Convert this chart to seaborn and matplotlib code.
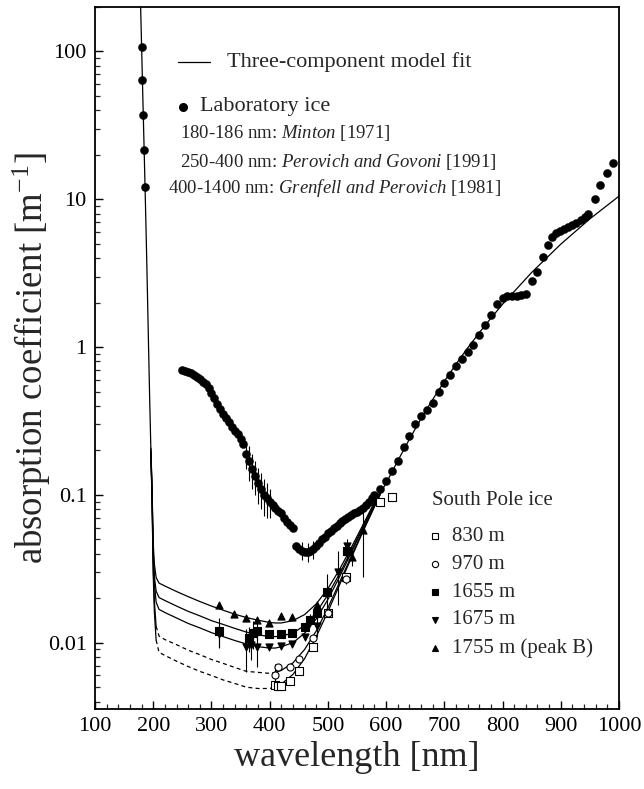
import matplotlib
matplotlib.use("Agg")
import matplotlib.pyplot as plt
import seaborn as sns
import numpy as np
import pandas as pd
from matplotlib.ticker import FixedLocator, FixedFormatter, MultipleLocator, NullFormatter

# ---------------- data ----------------
# Laboratory ice: 180-186 nm (Minton)
lab_uv_wl = [180, 181.5, 183, 184.5, 186]
lab_uv_abs = [108, 64, 37, 21.5, 12.2]
# 250-400 nm (Perovich and Govoni)
lab1_wl = [250, 255, 260, 265, 270, 275, 280, 285, 290, 295, 300, 305, 310, 315, 320,
           325, 330, 335, 340, 345, 350, 355, 360, 365, 370, 375, 380, 385, 390, 395, 400]
lab1_abs = [0.70, 0.69, 0.68, 0.67, 0.65, 0.63, 0.61, 0.58, 0.56, 0.53, 0.49, 0.45, 0.41, 0.38, 0.35,
            0.33, 0.31, 0.29, 0.27, 0.26, 0.24, 0.22, 0.19, 0.17, 0.15, 0.135, 0.12, 0.11, 0.10, 0.095, 0.09]
# 400-1400 nm (Grenfell and Perovich)
lab2_wl = [405, 410, 415, 420, 425, 430, 435, 440, 445, 450, 455, 460, 465, 470, 475, 480, 485, 490,
           495, 500, 505, 510, 515, 520, 525, 530, 535, 540, 545, 550, 555, 560, 565, 570, 575, 580,
           590, 600, 610, 620, 630, 640, 650, 660, 670, 680, 690, 700, 710, 720, 730, 740, 750, 760,
           770, 780, 790, 800, 808, 816, 824, 832, 840, 850, 860, 870, 878, 885, 892, 899, 906, 913,
           920, 927, 934, 941, 947, 959, 967, 979, 990]
lab2_abs = [0.085, 0.082, 0.078, 0.075, 0.070, 0.066, 0.063, 0.060, 0.045, 0.043, 0.042, 0.041, 0.041,
            0.042, 0.043, 0.045, 0.047, 0.050, 0.052, 0.055, 0.057, 0.060, 0.062, 0.065, 0.067, 0.069,
            0.071, 0.073, 0.075, 0.077, 0.079, 0.082, 0.086, 0.090, 0.095, 0.100, 0.110, 0.125, 0.145,
            0.170, 0.210, 0.250, 0.300, 0.340, 0.375, 0.420, 0.500, 0.570, 0.645, 0.740, 0.830, 0.920,
            1.04, 1.20, 1.40, 1.65, 1.95, 2.15, 2.20, 2.22, 2.22, 2.25, 2.30, 2.80, 3.20, 4.10, 4.90,
            5.60, 5.90, 6.10, 6.30, 6.50, 6.70, 6.95, 7.20, 7.60, 8.00, 10.1, 12.5, 15.0, 17.5]
# error bars on some laboratory points
lab_err_wl = [360, 365, 370, 375, 380, 385, 390, 395, 400, 455, 465, 475]
lab_err = [0.04, 0.045, 0.04, 0.035, 0.033, 0.03, 0.028, 0.025, 0.02, 0.006, 0.006, 0.006]

# South Pole ice measurements
sp830_wl = [410, 415, 420, 435, 450, 475, 500, 531, 590, 610]
sp830 = [0.0052, 0.0051, 0.0051, 0.0055, 0.0064, 0.0093, 0.016, 0.028, 0.090, 0.097]
sp830_err = [0, 0, 0, 0, 0, 0, 0, 0, 0, 0]
sp970_wl = [410, 415, 435, 450, 475, 500, 531]
sp970 = [0.0060, 0.0068, 0.0069, 0.0077, 0.0107, 0.016, 0.027]
sp970_err = [0.0012, 0, 0, 0, 0, 0.001, 0.002]
sp1655_wl = [313, 365, 372, 379, 399, 419, 439, 460, 470, 481, 498, 532]
sp1655 = [0.012, 0.0107, 0.0116, 0.012, 0.0115, 0.0114, 0.0116, 0.0128, 0.0142, 0.016, 0.022, 0.042]
sp1655_err = [0.0028, 0.002, 0.0025, 0.0015, 0, 0, 0, 0, 0.0015, 0.002, 0.007, 0.006]
sp1675_wl = [313, 360, 368, 379, 399, 419, 439, 460, 481, 518, 532]
sp1675 = [0.0114, 0.0093, 0.0096, 0.0094, 0.0094, 0.0095, 0.0098, 0.011, 0.013, 0.030, 0.045]
sp1675_err = [0.002, 0.003, 0.002, 0.0025, 0, 0, 0, 0, 0.002, 0.012, 0.005]
sp1755_wl = [313, 339, 359, 379, 399, 419, 439, 481, 541, 560]
sp1755 = [0.018, 0.0156, 0.0148, 0.0142, 0.0135, 0.0152, 0.015, 0.018, 0.038, 0.058]
sp1755_err = [0, 0, 0, 0, 0, 0, 0, 0, 0.005, 0.03]

# Three-component model fit curves
uv_wl = [177, 178, 180, 182, 184, 186, 188, 190, 192, 194, 196]
uv_abs = [330, 230, 110, 52, 25, 12, 5.5, 2.4, 1.0, 0.43, 0.2]
fit_wl = [196, 198, 200, 202, 205, 210, 220, 240, 260, 280, 300, 320, 340, 360, 380, 400, 410,
          420, 440, 460, 480, 500, 520, 540, 560, 580, 590]
fit_1755 = [0.207, 0.109, 0.047, 0.034, 0.0276, 0.0253, 0.0242, 0.0222, 0.0205, 0.0190, 0.0177,
            0.0166, 0.0156, 0.0148, 0.0142, 0.0137, 0.0136, 0.0136, 0.0141, 0.0155, 0.0183, 0.0232,
            0.0313, 0.0439, 0.0625, 0.0892, 0.1066]
fit_1655 = [0.200, 0.104, 0.041, 0.028, 0.0223, 0.0202, 0.0193, 0.0177, 0.0163, 0.0152, 0.0141,
            0.0133, 0.0125, 0.0118, 0.0113, 0.0110, 0.0110, 0.0111, 0.0116, 0.0131, 0.0160, 0.0211,
            0.0293, 0.0419, 0.0606, 0.0873, 0.1048]
fit_1675 = [0.198, 0.100, 0.038, 0.025, 0.0188, 0.0168, 0.0160, 0.0147, 0.0135, 0.0126, 0.0117,
            0.0110, 0.01035, 0.0098, 0.0094, 0.0092, 0.0092, 0.0094, 0.0100, 0.0116, 0.0145, 0.0196,
            0.0279, 0.0405, 0.0593, 0.0861, 0.1036]
fit_970 = [0.192, 0.094, 0.032, 0.019, 0.0129, 0.0111, 0.0105, 0.0097, 0.0089, 0.0083, 0.0077,
           0.00725, 0.0068, 0.0064, 0.0063, 0.0062, 0.0063, 0.0065, 0.0073, 0.0090, 0.0120, 0.0172,
           0.0256, 0.0383, 0.0571, 0.0840, 0.1015]
fit_830 = [0.189, 0.091, 0.029, 0.016, 0.0104, 0.0086, 0.0082, 0.0075, 0.0069, 0.0064, 0.0060,
           0.0056, 0.0053, 0.0050, 0.0049, 0.0049, 0.0050, 0.00525, 0.0061, 0.0078, 0.0110, 0.0162,
           0.0246, 0.0373, 0.0562, 0.0831, 0.1007]
ice_wl = [590, 600, 620, 640, 660, 680, 700, 720, 740, 760, 780, 800, 850, 900, 950, 1000]
ice_abs = [0.103, 0.120, 0.170, 0.238, 0.328, 0.442, 0.587, 0.767, 0.986, 1.25, 1.57, 1.95,
           3.2, 4.97, 7.37, 10.5]

x_ticks = [100, 200, 300, 400, 500, 600, 700, 800, 900, 1000]
y_ticks = [0.01, 0.1, 1, 10, 100]
y_ticklabels = ["0.01", "0.1", "1", "10", "100"]
legend_labels = ["830 m", "970 m", "1655 m", "1675 m", "1755 m (peak B)"]

# ---------------- style ----------------
sns.set_style("ticks")
plt.rcParams['font.family'] = ['Liberation Serif', 'DejaVu Serif']
plt.rcParams['mathtext.fontset'] = 'custom'
plt.rcParams['mathtext.rm'] = 'Liberation Serif'
plt.rcParams['mathtext.it'] = 'Liberation Serif:italic'

fig = plt.figure(figsize=(6.44, 7.89), dpi=100)
ax = fig.add_axes([95 / 644, 1 - 709 / 789, 524 / 644, 702 / 789])
ax.set_yscale('log')

LW = 0.9
K = 'black'

# fit lines
sns.lineplot(x=uv_wl, y=uv_abs, ax=ax, color=K, lw=LW, estimator=None, sort=False, zorder=2)
for vals in (fit_1755, fit_1655, fit_1675):
    sns.lineplot(x=fit_wl, y=vals, ax=ax, color=K, lw=LW, estimator=None, sort=False, zorder=2)
i205 = fit_wl.index(205)
i410 = fit_wl.index(410)
for vals in (fit_970, fit_830):
    sns.lineplot(x=fit_wl[:i205 + 1], y=vals[:i205 + 1], ax=ax, color=K, lw=LW,
                 estimator=None, sort=False, zorder=2)
    sns.lineplot(x=fit_wl[i205:i410 + 1], y=vals[i205:i410 + 1], ax=ax, color=K, lw=LW,
                 linestyle=(0, (3.2, 2.6)), estimator=None, sort=False, zorder=2)
    sns.lineplot(x=fit_wl[i410:], y=vals[i410:], ax=ax, color=K, lw=LW,
                 estimator=None, sort=False, zorder=2)
sns.lineplot(x=ice_wl, y=ice_abs, ax=ax, color=K, lw=LW, estimator=None, sort=False, zorder=2)

# laboratory data
lab_df = pd.DataFrame({
    'wl': lab_uv_wl + lab1_wl + lab2_wl,
    'a': lab_uv_abs + lab1_abs + lab2_abs,
})
lab_lookup = dict(zip(lab_df['wl'], lab_df['a']))
ax.errorbar(lab_err_wl, [lab_lookup[w] for w in lab_err_wl], yerr=lab_err, fmt='none',
            ecolor=K, elinewidth=0.8, capsize=0, zorder=3)
sns.scatterplot(data=lab_df, x='wl', y='a', ax=ax, color=K, s=34, edgecolor=K,
                linewidth=0.3, zorder=4, legend=False)

# South Pole ice data
series = [
    (sp830_wl, sp830, sp830_err, 's', 'white'),
    (sp970_wl, sp970, sp970_err, 'o', 'white'),
    (sp1655_wl, sp1655, sp1655_err, 's', K),
    (sp1675_wl, sp1675, sp1675_err, 'v', K),
    (sp1755_wl, sp1755, sp1755_err, '^', K),
]
for wl, vals, err, mk, fc in series:
    ax.errorbar(wl, vals, yerr=err, fmt='none', ecolor=K, elinewidth=0.8, capsize=0, zorder=3)
    sns.scatterplot(x=wl, y=vals, ax=ax, marker=mk, s=26, facecolor=fc, edgecolor=K,
                    linewidth=0.8, zorder=5, legend=False)

# axes
ax.set_xlim(100, 1000)
ax.set_ylim(0.00356, 200)
ax.xaxis.set_major_locator(FixedLocator(x_ticks))
ax.xaxis.set_minor_locator(MultipleLocator(20))
ax.yaxis.set_major_locator(FixedLocator(y_ticks))
ax.yaxis.set_major_formatter(FixedFormatter(y_ticklabels))
minor_y = [m * 10.0 ** e for e in range(-3, 3) for m in range(2, 10)]
ax.yaxis.set_minor_locator(FixedLocator(minor_y))
ax.yaxis.set_minor_formatter(NullFormatter())
ax.tick_params(axis='both', which='major', direction='in', length=6, width=1.0,
               labelsize=16, pad=6, top=False, right=False, colors=K)
ax.tick_params(axis='both', which='minor', direction='in', length=3.5, width=0.9,
               top=False, right=False)
for sp in ax.spines.values():
    sp.set_visible(True)
    sp.set_linewidth(1.3)
    sp.set_color(K)

ax.set_xlabel("wavelength [nm]", fontsize=26, labelpad=3)
ax.set_ylabel("absorption coefficient [m$^{-1}$]", fontsize=26.5)
ax.yaxis.set_label_coords(-0.08, 0.5)

# in-plot legend texts
T = ax.transAxes
ax.plot([0.158, 0.2195], [0.9217, 0.9217], color=K, lw=LW, transform=T)
ax.text(0.252, 0.9217, "Three-component model fit", transform=T, fontsize=16, va='center', ha='left')
ax.plot([0.1685], [0.858], marker='o', ms=5.5, color=K, transform=T, ls='none')
ax.text(0.2004, 0.858, "Laboratory ice", transform=T, fontsize=16, va='center', ha='left')
ax.text(0.1622, 0.8205, r"180-186 nm: $\mathit{Minton}$ [1971]", transform=T, fontsize=13.5,
        va='center', ha='left')
ax.text(0.1622, 0.7796, r"250-400 nm: $\mathit{Perovich\ and\ Govoni}$ [1991]", transform=T,
        fontsize=13.5, va='center', ha='left')
ax.text(0.1399, 0.7417, r"400-1400 nm: $\mathit{Grenfell\ and\ Perovich}$ [1981]", transform=T,
        fontsize=13.5, va='center', ha='left')

ax.text(0.6426, 0.2967, "South Pole ice", transform=T, fontsize=15, va='center', ha='left')
leg_y = [0.2464, 0.2061, 0.1662, 0.1268, 0.0865]
for (wl, vals, err, mk, fc), lab, yy in zip(series, legend_labels, leg_y):
    ax.plot([0.649], [yy], marker=mk, ms=4.5, mfc=fc, mec=K, mew=0.8, transform=T, ls='none')
    ax.text(0.6807, yy, lab, transform=T, fontsize=15, va='center', ha='left')

fig.savefig("out.png", dpi=100)
